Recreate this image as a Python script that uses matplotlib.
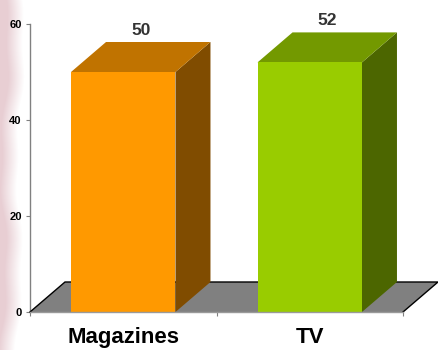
import numpy as np
import matplotlib
matplotlib.use("Agg")
import matplotlib.pyplot as plt
from matplotlib.patches import Polygon, Rectangle

# Data
categories = ["Magazines", "TV"]
values = [50, 52]
y_ticks = [0, 20, 40, 60]

# Face colours per bar: front, top, side
front_colors = ["#FF9900", "#99CC00"]
top_colors = ["#C07300", "#739900"]
side_colors = ["#804C00", "#4C6600"]

plt.rcParams["font.family"] = ["Liberation Sans", "DejaVu Sans"]

W, H = 438, 350
fig = plt.figure(figsize=(W / 100, H / 100), dpi=100)

# Soft pink strip along the left edge of the slide background
bg = fig.add_axes([0, 0, 1, 1], zorder=0)
bg.set_axis_off()
yy, xx = np.mgrid[0:H, 0:W].astype(float)
edge = 21 + 3.0 * np.sin(yy / 34.0) + 1.5 * np.sin(yy / 12.0 + 1.0)
edge -= (yy / H) * 3
strength = np.clip((edge - xx) / 16.0, 0, 1)
pink = np.array([0.91, 0.81, 0.83])
img = np.ones((H, W, 3)) * (1 - strength[..., None]) + pink * strength[..., None]
bg.imshow(img, extent=[0, 1, 0, 1], aspect="auto", interpolation="bilinear")
bg.set_xlim(0, 1)
bg.set_ylim(0, 1)

# Plot area
left_px, right_px, zero_px, top_px = 30, 403, 312, 24
ax = fig.add_axes([left_px / W, (H - zero_px) / H,
                   (right_px - left_px) / W, (zero_px - top_px) / H], zorder=1)
ax.patch.set_alpha(0)
ax.set_xlim(-0.5, len(categories) - 0.5)
ax.set_ylim(0, 60)

# depth offsets of the 3-D look, in data units
px_x = (len(categories)) / (right_px - left_px)
px_y = 60 / (zero_px - top_px)
ddx = 35 * px_x
ddy = 30 * px_y

# floor
x0, x1 = -0.5, len(categories) - 0.5
floor = Polygon([(x0, 0), (x1, 0), (x1 + ddx, ddy), (x0 + ddx, ddy)],
                closed=True, facecolor="#808080", edgecolor="none",
                clip_on=False, zorder=2)
ax.add_patch(floor)
ax.plot([x0, x0 + ddx, x1 + ddx, x1], [0, ddy, ddy, 0], color="black",
        lw=1.0, clip_on=False, zorder=3, solid_joinstyle="miter")

bar_w = 0.56
for i, (cat, v) in enumerate(zip(categories, values)):
    xl, xr = i - bar_w / 2, i + bar_w / 2
    side = Polygon([(xr, 0), (xr + ddx, ddy), (xr + ddx, v + ddy), (xr, v)],
                   closed=True, facecolor=side_colors[i], edgecolor="none",
                   clip_on=False, zorder=4)
    top = Polygon([(xl, v), (xr, v), (xr + ddx, v + ddy), (xl + ddx, v + ddy)],
                  closed=True, facecolor=top_colors[i], edgecolor="none",
                  clip_on=False, zorder=4)
    front = Rectangle((xl, 0), bar_w, v, facecolor=front_colors[i],
                      edgecolor="none", clip_on=False, zorder=5)
    ax.add_patch(side)
    ax.add_patch(top)
    ax.add_patch(front)
    ax.annotate(str(v), xy=(i + ddx / 2, v + ddy), xytext=(0, 5),
                textcoords="offset points", ha="center", va="baseline",
                fontsize=12.5, fontweight="bold", color="#333333",
                annotation_clip=False, zorder=6)

# axes styling
for s in ("top", "right"):
    ax.spines[s].set_visible(False)
ax.spines["left"].set_color("#808080")
ax.spines["bottom"].set_color("#9A9A9A")
ax.spines["left"].set_linewidth(1.0)
ax.spines["bottom"].set_linewidth(1.0)
ax.spines["bottom"].set_zorder(6)

ax.set_yticks(y_ticks)
ax.set_yticklabels([str(t) for t in y_ticks], fontsize=8, fontweight="bold")
ax.tick_params(axis="y", direction="out", length=3, width=0.8, color="#808080", pad=3)

ax.set_xticks(range(len(categories)))
ax.set_xticklabels(categories, fontsize=16, fontweight="bold")
ax.set_xticks(np.arange(-0.5, len(categories), 1.0), minor=True)
ax.tick_params(axis="x", which="major", length=0, pad=11)
ax.tick_params(axis="x", which="minor", direction="out", length=3, width=0.8,
               color="#808080")

fig.savefig("out.png", dpi=100)
